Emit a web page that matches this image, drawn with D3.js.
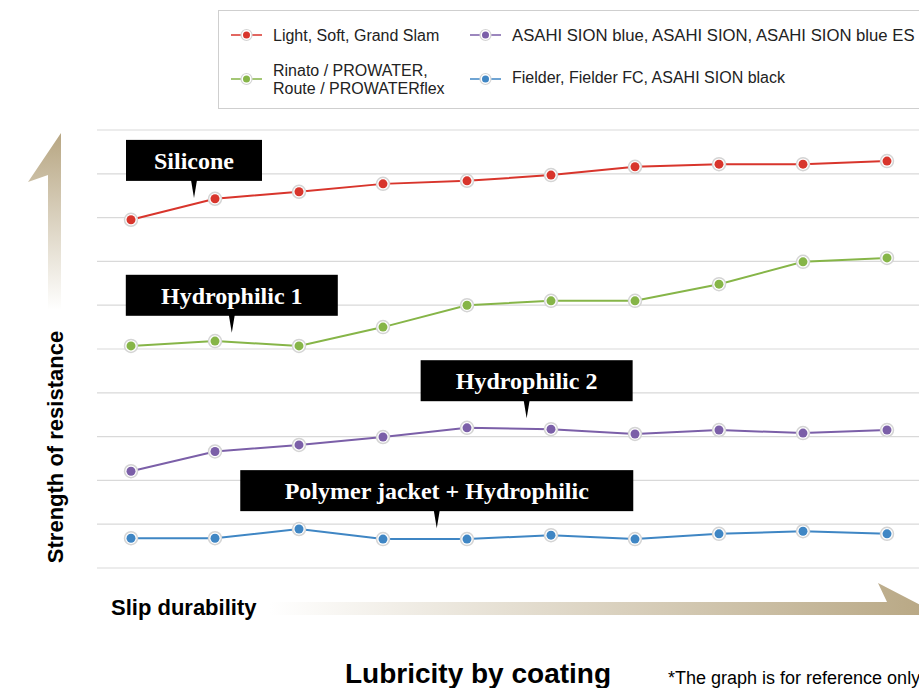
<!DOCTYPE html>
<html>
<head>
<meta charset="utf-8">
<script src="https://cdn.jsdelivr.net/npm/d3@7"></script>
<style>
  body { margin: 0; background: #fff; }
  text { font-family: "Liberation Sans", Arial, sans-serif; }
</style>
</head>
<body>
<script>
// values (grid units, 0 = bottom line)
const steps = d3.range(10);
const silicone = [7.95, 8.43, 8.59, 8.77, 8.84, 8.97, 9.16, 9.22, 9.22, 9.29];
const hydrophilic1 = [5.07, 5.18, 5.07, 5.50, 6.00, 6.10, 6.10, 6.48, 6.99, 7.08];
const hydrophilic2 = [2.21, 2.66, 2.81, 2.99, 3.20, 3.17, 3.06, 3.15, 3.08, 3.15];
const polymer = [0.68, 0.68, 0.89, 0.66, 0.66, 0.75, 0.66, 0.78, 0.84, 0.78];
const gridTicks = d3.range(0, 11);

const legendNames = [
  ["Light, Soft, Grand Slam"],
  ["ASAHI SION blue, ASAHI SION, ASAHI SION blue ES"],
  ["Rinato / PROWATER,", "Route / PROWATERflex"],
  ["Fielder, Fielder FC, ASAHI SION black"]
];
const labelText = ["Silicone", "Hydrophilic 1", "Hydrophilic 2", "Polymer jacket + Hydrophilic"];
// where each label's pointer lands: step index, value
const labelStep = [0.75, 1.2, 4.71, 3.64];
const labelValue = [8.45, 5.37, 3.42, 0.91];

const width = 919, height = 688;
const colors = ["#d8352c", "#7b5fa8", "#86b548", "#3f86c4"];
const series = [silicone, hydrophilic2, hydrophilic1, polymer]; // legend order
const boxW = [136, 212, 212, 393];
const tan = "#b7a682";

const svg = d3.select("body").append("svg")
  .attr("width", width)
  .attr("height", height);

const x = d3.scaleLinear().domain([0, 9]).range([131, 887]);
const y = d3.scaleLinear().domain([0, 10]).range([568, 130]);

const defs = svg.append("defs");
const gUp = defs.append("linearGradient").attr("id", "gUp")
  .attr("x1", 0).attr("y1", 1).attr("x2", 0).attr("y2", 0);
gUp.append("stop").attr("offset", "0%").attr("stop-color", "#fff");
gUp.append("stop").attr("offset", "100%").attr("stop-color", tan);
const gRight = defs.append("linearGradient").attr("id", "gRight")
  .attr("x1", 0).attr("y1", 0).attr("x2", 1).attr("y2", 0);
gRight.append("stop").attr("offset", "0%").attr("stop-color", "#fff");
gRight.append("stop").attr("offset", "100%").attr("stop-color", tan);

// grid
svg.append("g").selectAll("line")
  .data(gridTicks)
  .enter().append("line")
    .attr("x1", 97).attr("x2", width)
    .attr("y1", d => y(d)).attr("y2", d => y(d))
    .attr("stroke", "#d9d9d9")
    .attr("stroke-width", 1.2);

// arrows
svg.append("path")
  .attr("d", "M48,310 L48,175 L28,182 L61,133 L61,310 Z")
  .attr("fill", "url(#gUp)");
svg.append("path")
  .attr("d", "M270,602 L887,602 L878,583 L940,615 L270,615 Z")
  .attr("fill", "url(#gRight)");

// axis titles
svg.append("text")
  .attr("transform", "translate(63,447) rotate(-90)")
  .attr("text-anchor", "middle")
  .style("font-size", "22px").style("font-weight", "bold")
  .text("Strength of resistance");
svg.append("text")
  .attr("x", 111).attr("y", 615)
  .style("font-size", "22px").style("font-weight", "bold")
  .text("Slip durability");
svg.append("text")
  .attr("x", 345).attr("y", 683)
  .style("font-size", "28px").style("font-weight", "bold")
  .text("Lubricity by coating");
svg.append("text")
  .attr("x", 668).attr("y", 684)
  .style("font-size", "18px")
  .text("*The graph is for reference only");

// lines
const line = d3.line().x((d, i) => x(steps[i])).y(d => y(d));
series.forEach((s, k) => {
  const g = svg.append("g");
  g.append("path")
    .datum(s)
    .attr("fill", "none")
    .attr("stroke", colors[k])
    .attr("stroke-width", 2)
    .attr("d", line);
  g.selectAll("circle.halo")
    .data(s)
    .enter().append("circle")
      .attr("class", "halo")
      .attr("cx", (d, i) => x(steps[i])).attr("cy", d => y(d))
      .attr("r", 6.5)
      .attr("fill", "#fff")
      .attr("stroke", "#d4d4d4")
      .attr("stroke-width", 1.5);
  g.selectAll("circle.dot")
    .data(s)
    .enter().append("circle")
      .attr("class", "dot")
      .attr("cx", (d, i) => x(steps[i])).attr("cy", d => y(d))
      .attr("r", 4.5)
      .attr("fill", colors[k]);
});

// labels
labelText.forEach((t, i) => {
  const cx = x(labelStep[i]), tip = y(labelValue[i]);
  const bottom = tip - 17, top = bottom - 41;
  const g = svg.append("g");
  g.append("rect")
    .attr("x", cx - boxW[i] / 2).attr("y", top)
    .attr("width", boxW[i]).attr("height", 41)
    .attr("fill", "#000");
  g.append("path")
    .attr("d", `M${cx - 3},${bottom - 1} L${cx + 3},${bottom - 1} L${cx},${tip} Z`)
    .attr("fill", "#000");
  g.append("text")
    .attr("x", cx).attr("y", top + 29)
    .attr("text-anchor", "middle")
    .attr("fill", "#fff")
    .style("font-family", "'Liberation Serif', 'Times New Roman', serif")
    .style("font-size", "24px").style("font-weight", "bold")
    .text(t);
});

// legend
const legend = svg.append("g");
legend.append("rect")
  .attr("x", 218.5).attr("y", 10.5)
  .attr("width", 740).attr("height", 98)
  .attr("fill", "#fff")
  .attr("stroke", "#cfcfcf");
const legPos = [[231, 35], [470, 35], [231, 79], [470, 79]];
const legText = [[273, [41]], [512, [41]], [273, [76, 94]], [512, [83]]];
legendNames.forEach((names, k) => {
  const [lx, ly] = legPos[k];
  legend.append("line")
    .attr("x1", lx).attr("x2", lx + 31)
    .attr("y1", ly).attr("y2", ly)
    .attr("stroke", colors[k]).attr("stroke-width", 1.5);
  legend.append("circle")
    .attr("cx", lx + 15.5).attr("cy", ly).attr("r", 5.5)
    .attr("fill", "#fff").attr("stroke", "#d4d4d4").attr("stroke-width", 1.2);
  legend.append("circle")
    .attr("cx", lx + 15.5).attr("cy", ly).attr("r", 3.5)
    .attr("fill", colors[k]);
  names.forEach((n, j) => {
    legend.append("text")
      .attr("x", legText[k][0]).attr("y", legText[k][1][j])
      .style("font-size", k === 1 ? "16.7px" : "16px")
      .attr("fill", "#222")
      .text(n);
  });
});
</script>
</body>
</html>
